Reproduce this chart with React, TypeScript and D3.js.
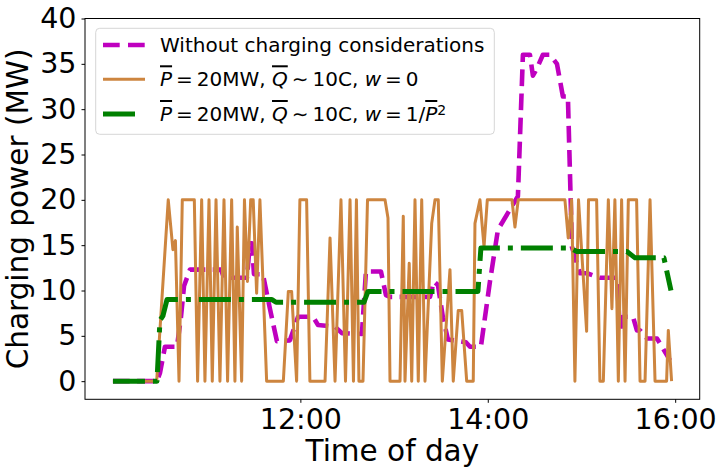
import React, { useRef, useEffect } from 'react';
import * as d3 from 'd3';

// each point: [minutes after 10:00, charging power in MW]
const withoutCharging: [number, number][] = [
    [0, 0], [28.2, 0], [30.1, 0.9], [33.3, 3.8], [41.0, 3.8], [43.5, 7], [45.5, 10.5], [49.3, 12.3],
    [69.2, 12.3], [71.1, 11.4], [85.8, 11.4], [87.7, 15.2], [89.0, 15.2], [90.3, 11.8], [96.0, 11.8],
    [100.5, 8], [105.0, 4.4], [113.3, 4.5], [118.5, 7.1], [128.1, 7.1], [131.3, 6.2], [142.2, 6.0],
    [146.6, 5.3], [159.4, 5.2], [162.0, 12.1], [171.6, 12.1], [174.8, 9.5], [177.4, 9.3], [203.0, 9.3],
    [205.5, 11], [208.1, 10.6], [211.3, 7], [214.5, 4.6], [226.0, 4.3], [228.6, 3.8], [235.6, 3.8],
    [241.4, 11], [246.5, 16.7], [259.3, 20.4], [262.5, 36], [267.0, 36], [268.9, 33.7], [271.5, 34.5],
    [275.3, 36], [279.8, 36], [284.3, 35], [288.1, 31.4], [291.3, 31.4], [293.9, 14.8], [297.1, 13],
    [299.0, 11.9], [303.5, 11.9], [311.8, 11.4], [322.7, 11.4], [324.6, 5.6], [326.6, 7.1], [333.0, 7.1],
    [335.5, 5.6], [337.5, 5.6], [342.0, 4.7], [348.4, 4.7], [356.7, 2.3],
];

const capNoWeight: [number, number][] = [
    [0, 0], [28, 0], [35.4, 20], [38.4, 14.5], [40.0, 15.5], [42.3, 0], [44.4, 20], [52.1, 20],
    [54.2, 0], [56.8, 20], [58.9, 0], [61.5, 20], [63.6, 0], [66.0, 20], [68.5, 0], [71.1, 20],
    [73.4, 0], [76.0, 20], [78.1, 0], [79.6, 17], [82.4, 0], [84.2, 20], [86.1, 11], [88.2, 20],
    [89.8, 20], [92.0, 9.7], [94.1, 20], [98.4, 0], [109.1, 0], [112.3, 9.9], [114.4, 9.9], [117.6, 0],
    [119.7, 20], [124.0, 20], [126.1, 0], [135.8, 0], [139.0, 15.8], [142.2, 0], [146.0, 20], [148.9, 0],
    [151.8, 20], [154.0, 0], [155.9, 20], [157.5, 0], [160.1, 0], [163.0, 20], [174.2, 20], [176.1, 18],
    [177.4, 0], [183.8, 0], [185.9, 18.2], [187.0, 0], [189.7, 13], [191.3, 0], [193.4, 20], [195.5, 0],
    [197.7, 20], [199.8, 0], [204.1, 17.4], [206.2, 20], [208.3, 20], [210.9, 0], [215.8, 12.3], [217.9, 0],
    [221.1, 7.8], [223.3, 7.8], [226.5, 0], [230.7, 0], [231.8, 17.4], [235.0, 20], [237.6, 14.8], [239.7, 20],
    [255.5, 20], [257.4, 17], [259.5, 20], [289.4, 20], [291.5, 15.8], [293.7, 20], [295.8, 0], [298.1, 20],
    [303.3, 5.5], [304.5, 20], [309.7, 20], [311.8, 0], [314.0, 0], [317.2, 20], [319.5, 8], [321.4, 20],
    [323.6, 0], [325.7, 20], [327.9, 0], [330.0, 20], [335.3, 20], [337.5, 0], [340.7, 0], [343.9, 20],
    [347.1, 0], [354.5, 0], [355.6, 5.6], [357.7, 0],
];

const capWeighted: [number, number][] = [
    [0, 0], [28.2, 0], [30.1, 6.7], [32.0, 7.2], [34.6, 9.0], [101.8, 9.0], [104.4, 8.7], [160.7, 8.7],
    [163.3, 9.9], [233.7, 9.9], [235.6, 14.7], [292.6, 14.7], [297.1, 14.3], [329.1, 14.3], [334.3, 13.6],
    [352.8, 13.6], [357.3, 10],
];

const xTickLabels = ['12:00', '14:00', '16:00'];
const yTickValues = [0, 5, 10, 15, 20, 25, 30, 35, 40];

type Part = { t: string; italic?: boolean; over?: boolean; sup?: boolean };

const legendLabels: Part[][] = [
    [{ t: 'Without charging considerations' }],
    [
        { t: 'P', italic: true, over: true }, { t: '\u2009=\u200920MW, ' },
        { t: 'Q', italic: true, over: true }, { t: '\u2009\u223C\u200910C, ' },
        { t: 'w', italic: true }, { t: '\u2009=\u20090' },
    ],
    [
        { t: 'P', italic: true, over: true }, { t: '\u2009=\u200920MW, ' },
        { t: 'Q', italic: true, over: true }, { t: '\u2009\u223C\u200910C, ' },
        { t: 'w', italic: true }, { t: '\u2009=\u20091/' },
        { t: 'P', italic: true, over: true }, { t: '2', sup: true },
    ],
];

const FONT = 'DejaVu Sans, sans-serif';

const App: React.FC = () => {
    const svgRef = useRef<SVGSVGElement | null>(null);
    const width = 724;
    const height = 475;

    useEffect(() => {
        const svg = d3.select(svgRef.current);
        svg.selectAll('*').remove();

        const toDate = (m: number) => new Date(new Date(2021, 0, 1, 10, 0, 0).getTime() + m * 60000);

        const left = 85, right = 699.7, top = 18.5, bottom = 399.3;

        const x = d3.scaleTime()
            .domain([toDate(-17.9), toDate(375.7)])
            .range([left, right]);
        const y = d3.scaleLinear()
            .domain([-2, 40])
            .range([bottom, top]);

        const line = d3.line<[number, number]>()
            .x(d => x(toDate(d[0])))
            .y(d => y(d[1]));

        const series = [
            { data: withoutCharging, color: '#bf00bf', w: 4.6, dash: '16.7 7.4', legendDash: '16.7 8.3' },
            { data: capNoWeight, color: '#cd853f', w: 3, dash: null, legendDash: null },
            { data: capWeighted, color: '#008000', w: 5, dash: '32 8 5 8', legendDash: '32 20' },
        ];

        const plot = svg.append('g');
        series.forEach(s => {
            plot.append('path')
                .datum(s.data)
                .attr('d', line)
                .attr('fill', 'none')
                .attr('stroke', s.color)
                .attr('stroke-width', s.w)
                .attr('stroke-linejoin', 'round')
                .attr('stroke-dasharray', s.dash);
        });

        // axes
        const xTicks = xTickLabels.map(l => {
            const [h, m] = l.split(':').map(Number);
            return toDate((h - 10) * 60 + m);
        });
        const xAxis = svg.append('g')
            .attr('transform', `translate(0,${bottom})`)
            .call(d3.axisBottom(x).tickValues(xTicks).tickFormat(d3.timeFormat('%H:%M') as any)
                .tickSize(3.5).tickSizeOuter(0).tickPadding(5.5));
        const yAxis = svg.append('g')
            .attr('transform', `translate(${left},0)`)
            .call(d3.axisLeft(y).tickValues(yTickValues).tickSize(3.5).tickSizeOuter(0).tickPadding(5));

        [xAxis, yAxis].forEach(a => {
            a.select('.domain').remove();
            a.selectAll('line').attr('stroke', '#000').attr('stroke-width', 1);
            a.selectAll('text')
                .attr('fill', '#000')
                .style('font-family', FONT)
                .style('font-size', '28.5px');
        });

        svg.append('rect')
            .attr('x', left)
            .attr('y', top)
            .attr('width', right - left)
            .attr('height', bottom - top)
            .attr('fill', 'none')
            .attr('stroke', '#000')
            .attr('stroke-width', 1);

        // axis labels
        svg.append('text')
            .attr('x', (left + right) / 2)
            .attr('y', 460.5)
            .attr('text-anchor', 'middle')
            .style('font-family', FONT)
            .style('font-size', '29.5px')
            .text('Time of day');

        svg.append('text')
            .attr('transform', `translate(28,${(top + bottom) / 2}) rotate(-90)`)
            .attr('text-anchor', 'middle')
            .style('font-family', FONT)
            .style('font-size', '29.5px')
            .text('Charging power (MW)');

        // legend
        const legend = svg.append('g');
        legend.append('rect')
            .attr('x', 95.7)
            .attr('y', 28.3)
            .attr('width', 398.6)
            .attr('height', 106)
            .attr('rx', 4)
            .attr('fill', '#fff')
            .attr('fill-opacity', 0.8)
            .attr('stroke', '#d6d6d6')
            .attr('stroke-width', 1);

        const rowY = [45, 79.3, 114];
        series.forEach((s, i) => {
            legend.append('line')
                .attr('x1', 103)
                .attr('x2', 145)
                .attr('y1', rowY[i])
                .attr('y2', rowY[i])
                .attr('stroke', s.color)
                .attr('stroke-width', s.w)
                .attr('stroke-dasharray', s.legendDash);

            const txt = legend.append('text')
                .attr('x', 160)
                .attr('y', rowY[i] + 7)
                .style('font-family', FONT)
                .style('font-size', '20px')
                .attr('fill', '#000');
            legendLabels[i].forEach(p => {
                const ts = txt.append('tspan').text(p.t);
                if (p.italic) ts.style('font-style', 'italic');
                if (p.over) ts.style('text-decoration', 'overline');
                if (p.sup) ts.attr('baseline-shift', '40%').style('font-size', '14px');
            });
        });
    }, []);

    return (
        <svg
            ref={svgRef}
            width={width}
            height={height}
            style={{ position: 'absolute', left: 0, top: 0, background: '#fff' }}
        ></svg>
    );
};

export default App;
